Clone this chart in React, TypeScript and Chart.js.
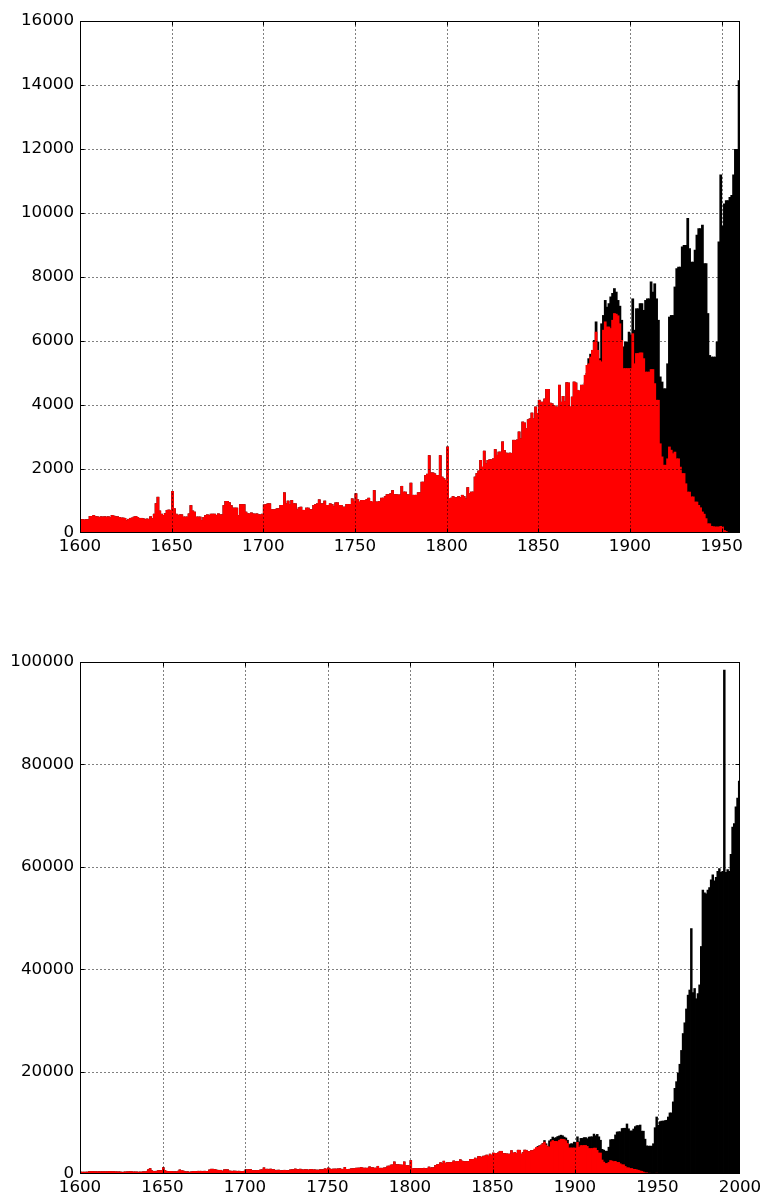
import React, { useEffect, useRef } from 'react';
import { Chart, registerables } from 'chart.js';

Chart.register(...registerables);

const FIRST_YEAR = 1600;

// Red series (subset), one value per year, 1600 .. 1952
const redCounts = [
  // 1600s
  430, 430, 420, 430, 430, 530, 530, 560, 520, 520,
  // 1610s
  500, 520, 510, 520, 510, 520, 500, 560, 540, 520,
  // 1620s
  520, 500, 480, 480, 470, 400, 440, 470, 480, 510,
  // 1630s
  530, 500, 460, 470, 460, 430, 450, 440, 520, 460,
  // 1640s
  600, 930, 1130, 700, 600, 560, 620, 720, 730, 720,
  // 1650s
  1310, 770, 600, 560, 580, 580, 510, 510, 510, 610,
  // 1660s
  870, 700, 665, 510, 510, 510, 405, 500, 560, 580,
  // 1670s
  560, 600, 600, 600, 560, 610, 580, 580, 870, 1000,
  // 1680s
  1000, 960, 870, 790, 790, 790, 560, 900, 900, 900,
  // 1690s
  665, 610, 610, 640, 610, 600, 610, 580, 580, 600,
  // 1700s
  890, 900, 925, 925, 740, 740, 740, 770, 770, 875,
  // 1710s
  875, 1270, 925, 1010, 905, 1030, 925, 925, 740, 800,
  // 1720s
  820, 720, 720, 790, 790, 740, 740, 875, 900, 925,
  // 1730s
  1050, 925, 925, 1010, 875, 875, 925, 900, 840, 955,
  // 1740s
  955, 875, 875, 820, 820, 905, 905, 905, 1080, 1000,
  // 1750s
  1240, 1050, 980, 1030, 1030, 1030, 1060, 1100, 1000, 980,
  // 1760s
  1340, 980, 980, 1000, 1100, 1100, 1150, 1210, 1210, 1240,
  // 1770s
  1340, 1210, 1210, 1200, 1200, 1470, 1290, 1290, 1210, 1200,
  // 1780s
  1570, 1190, 1190, 1190, 1270, 1270, 1600, 1600, 1810, 1850,
  // 1790s
  2430, 1890, 1890, 1860, 1810, 1810, 2430, 1760, 1710, 1650,
  // 1800s
  2700, 1080, 1100, 1150, 1110, 1120, 1150, 1120, 1190, 1150,
  // 1810s
  1080, 1430, 1240, 1290, 1290, 1760, 1870, 1950, 2280, 2070,
  // 1820s
  2570, 2180, 2280, 2300, 2300, 2330, 2620, 2440, 2540, 2540,
  // 1830s
  2860, 2590, 2510, 2480, 2510, 2500, 2910, 2900, 2920, 3170,
  // 1840s
  2960, 3480, 3450, 3270, 3550, 3580, 3760, 3580, 3950, 3740,
  // 1850s
  4160, 4100, 4100, 4200, 4500, 4500, 4070, 4050, 4000, 3950,
  // 1860s
  3950, 4630, 4100, 4280, 4120, 4710, 4700, 3950, 4260, 4730,
  // 1870s
  4700, 4470, 4450, 4630, 4630, 4940, 5250, 5300, 5510, 5720,
  // 1880s
  5980, 6290, 5720, 5400, 5360, 6350, 6610, 6450, 6450, 6400,
  // 1890s
  6660, 6870, 6850, 6800, 6550, 6030, 5150, 5150, 5150, 5150,
  // 1900s
  5150, 6240, 5300, 5620, 5620, 5640, 5640, 5460, 5040, 5040,
  // 1910s
  5040, 5120, 5120, 4680, 4160, 4160, 2800, 2390, 2130, 2130,
  // 1920s
  2330, 2700, 2600, 2490, 2540, 2330, 2330, 2070, 1870, 1870,
  // 1930s
  1550, 1290, 1290, 1140, 1140, 980, 980, 875, 800, 670,
  // 1940s
  600, 460, 300, 300, 220, 210, 200, 200, 200, 220,
  // 1950s
  200, 90, 60,
];

// Black series (total) from 1875 .. 1999; before 1875 it equals the red series
const totalLate = [
  // 1875-1879
  4700, 5000, 5460, 5600, 5720,
  // 1880s
  6030, 6610, 5980, 5460, 6550, 6810, 7280, 7070, 7180, 7390,
  // 1890s
  7500, 7650, 7540, 7280, 7100, 6660, 5830, 5980, 5980, 6290,
  // 1900s
  6200, 7330, 6350, 7020, 7020, 7180, 7180, 6970, 7280, 7330,
  // 1910s
  7330, 7860, 7540, 7800, 7330, 6660, 4890, 4730, 4520, 4520,
  // 1920s
  5300, 6760, 6810, 6810, 7700, 8270, 8320, 8320, 8950, 9000,
  // 1930s
  9000, 9840, 8900, 8480, 8480, 8850, 9320, 9520, 9520, 9630,
  // 1940s
  8430, 8430, 6870, 5560, 5510, 5510, 5510, 5980, 9110, 11200,
  // 1950s
  9600, 10300, 10400, 10400, 10500, 10560, 11200, 12000, 12000, 14150,
  // 1960s
  16800, 18100, 19800, 21500, 24200, 27500, 29600, 32300, 35000, 36000,
  // 1970s
  48000, 35500, 36300, 34300, 35300, 37000, 44500, 55500, 55000, 54800,
  // 1980s
  55500, 56000, 57500, 58500, 57300, 58000, 59200, 59700, 59000, 59200,
  // 1990s
  98500, 59000, 59500, 59200, 62500, 67800, 68500, 71800, 73500, 76800,
];

const totalCounts = [...redCounts.slice(0, 275), ...totalLate];
const years = totalCounts.map((_, i) => FIRST_YEAR + i);

const topXTicks = [1600, 1650, 1700, 1750, 1800, 1850, 1900, 1950];
const bottomXTicks = [1600, 1650, 1700, 1750, 1800, 1850, 1900, 1950, 2000];
const topYTicks = [0, 2000, 4000, 6000, 8000, 10000, 12000, 14000, 16000];
const bottomYTicks = [0, 20000, 40000, 60000, 80000, 100000];

const FONT = { family: 'DejaVu Sans', size: 16.7 };

const frameGridPlugin = {
  id: 'frameGrid',
  afterDatasetsDraw(chart: any) {
    const { ctx, chartArea: a, scales } = chart;
    const xs = scales.x;
    const ys = scales.y;
    const L = Math.round(a.left) + 0.5;
    const R = Math.round(a.right) - 0.5;
    const T = Math.round(a.top) + 0.5;
    const B = Math.round(a.bottom) - 0.5;
    ctx.save();
    ctx.strokeStyle = '#000';
    ctx.lineWidth = 1;
    ctx.setLineDash([1, 3]);
    ctx.beginPath();
    for (const t of xs.ticks) {
      const px = Math.round(xs.getPixelForValue(t.value)) + 0.5;
      if (px <= L + 1 || px >= R - 1) continue;
      ctx.moveTo(px, T);
      ctx.lineTo(px, B);
    }
    for (const t of ys.ticks) {
      const py = Math.round(ys.getPixelForValue(t.value)) + 0.5;
      if (py <= T + 1 || py >= B - 1) continue;
      ctx.moveTo(L, py);
      ctx.lineTo(R, py);
    }
    ctx.stroke();
    ctx.setLineDash([]);
    // inward tick marks
    ctx.beginPath();
    const tl = 4;
    for (const t of xs.ticks) {
      const px = Math.round(xs.getPixelForValue(t.value)) + 0.5;
      if (px <= L + 1 || px >= R - 1) continue;
      ctx.moveTo(px, B);
      ctx.lineTo(px, B - tl);
      ctx.moveTo(px, T);
      ctx.lineTo(px, T + tl);
    }
    for (const t of ys.ticks) {
      const py = Math.round(ys.getPixelForValue(t.value)) + 0.5;
      if (py <= T + 1 || py >= B - 1) continue;
      ctx.moveTo(L, py);
      ctx.lineTo(L + tl, py);
      ctx.moveTo(R, py);
      ctx.lineTo(R - tl, py);
    }
    ctx.stroke();
    ctx.strokeRect(L, T, R - L, B - T);
    ctx.restore();
  },
};

function makeConfig(
  xMax: number,
  yMax: number,
  xTicks: number[],
  yTicks: number[],
  padding: any,
  xHeight: number
): any {
  const inRange = (i: number) => years[i] < xMax;
  const redData = redCounts
    .map((v, i) => ({ x: years[i] + 0.5, y: v }))
    .filter((_, i) => inRange(i));
  const totalData = totalCounts
    .map((v, i) => ({ x: years[i] + 0.5, y: v }))
    .filter((_, i) => inRange(i));
  const common = {
    borderWidth: 0,
    barPercentage: 1.5,
    categoryPercentage: 1,
    grouped: false,
  };
  return {
    type: 'bar',
    data: {
      datasets: [
        { label: 'red', data: redData, backgroundColor: '#ff0000', ...common },
        { label: 'total', data: totalData, backgroundColor: '#000000', ...common },
      ],
    },
    options: {
      responsive: false,
      animation: false,
      devicePixelRatio: 1,
      layout: { padding },
      plugins: { legend: { display: false }, tooltip: { enabled: false } },
      scales: {
        x: {
          type: 'linear',
          min: 1600,
          max: xMax,
          offset: false,
          grid: { display: false, drawTicks: false },
          border: { display: false },
          afterBuildTicks: (s: any) => {
            s.ticks = xTicks.map((v) => ({ value: v }));
          },
          afterFit: (s: any) => {
            s.height = xHeight;
            s.paddingLeft = 0;
            s.paddingRight = 0;
          },
          ticks: {
            color: '#000',
            font: FONT,
            padding: 4,
            maxRotation: 0,
            autoSkip: false,
            callback: (v: any) => String(v),
          },
        },
        y: {
          type: 'linear',
          min: 0,
          max: yMax,
          grid: { display: false, drawTicks: false },
          border: { display: false },
          afterBuildTicks: (s: any) => {
            s.ticks = yTicks.map((v) => ({ value: v }));
          },
          afterFit: (s: any) => {
            s.width = 80;
            s.paddingTop = 0;
            s.paddingBottom = 0;
          },
          ticks: {
            color: '#000',
            font: FONT,
            padding: 6,
            autoSkip: false,
            callback: (v: any) => String(v),
          },
        },
      },
    },
    plugins: [frameGridPlugin],
  };
}

export default function App() {
  const topRef = useRef<HTMLCanvasElement | null>(null);
  const bottomRef = useRef<HTMLCanvasElement | null>(null);

  useEffect(() => {
    const top = new Chart(
      topRef.current as HTMLCanvasElement,
      makeConfig(1960, 16000, topXTicks, topYTicks, { top: 21, right: 21, left: 0, bottom: 37 }, 30)
    );
    const bottom = new Chart(
      bottomRef.current as HTMLCanvasElement,
      makeConfig(2000, 100000, bottomXTicks, bottomYTicks, { top: 62, right: 21, left: 0, bottom: 0 }, 19)
    );
    return () => {
      top.destroy();
      bottom.destroy();
    };
  }, []);

  return (
    <div style={{ position: 'absolute', left: 0, top: 0, width: 761, height: 1193, background: '#fff' }}>
      <canvas ref={topRef} width={761} height={600} style={{ position: 'absolute', left: 0, top: 0 }} />
      <canvas ref={bottomRef} width={761} height={593} style={{ position: 'absolute', left: 0, top: 600 }} />
    </div>
  );
}
